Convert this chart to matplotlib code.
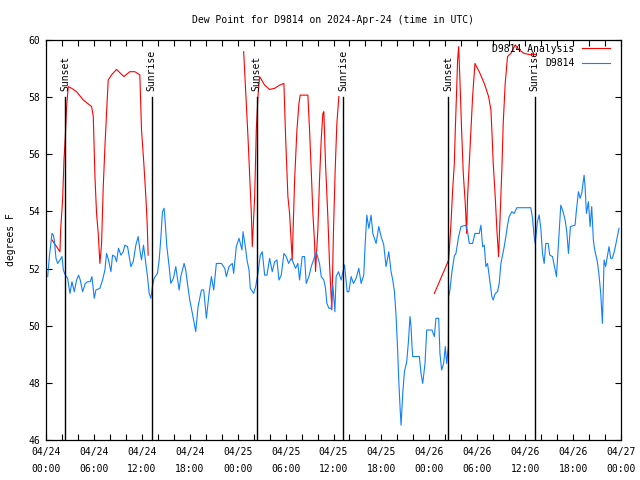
import matplotlib
matplotlib.use("Agg")
import matplotlib.pyplot as plt

# ---- data (hours since 2024-04-24 00:00 UTC, degrees F) ----
obs_hours = [0.21, 0.42, 0.75, 0.92, 1.04, 1.25, 1.46, 1.75, 2.0, 2.17, 2.42, 2.71, 3.0, 3.25, 3.54, 3.83,
             4.08, 4.29, 4.58, 4.92, 5.21, 5.54, 5.75, 6.04, 6.25, 6.75, 7.08, 7.38, 7.58, 7.83, 8.13, 8.33,
             8.63, 8.83, 9.08, 9.38, 9.67, 9.88, 10.21, 10.42, 10.63, 10.92, 11.25, 11.54, 11.79, 11.96,
             12.21, 12.42, 12.71, 12.92, 13.13, 13.33, 13.54, 13.96, 14.17, 14.38, 14.58, 14.79, 14.92,
             15.13, 15.42, 15.63, 15.96, 16.25, 16.46, 16.67, 16.88, 17.08, 17.29, 17.5, 17.71, 18.0,
             18.33, 18.75, 19.04, 19.46, 19.75, 20.08, 20.42, 20.71, 21.0, 21.33, 21.96, 22.38, 22.58,
             22.92, 23.33, 23.5, 23.83, 24.17, 24.54, 24.67, 24.96, 25.17, 25.42, 25.58, 26.0, 26.25,
             26.54, 26.83, 27.08, 27.38, 27.67, 28.0, 28.33, 28.63, 28.92, 29.17, 29.46, 29.79, 30.08,
             30.38, 30.71, 30.92, 31.25, 31.54, 31.75, 32.08, 32.38, 32.58, 32.92, 33.21, 33.5, 33.83,
             34.25, 34.46, 34.79, 35.0, 35.17, 35.42, 35.71, 35.92, 36.17, 36.33, 36.63, 36.96, 37.38,
             37.71, 37.92, 38.21, 38.5, 38.83, 39.17, 39.46, 39.79, 39.96, 40.17, 40.42, 40.71, 40.92,
             41.33, 41.67, 41.96, 42.29, 42.58, 42.92, 43.21, 43.42, 43.63, 43.83, 44.04, 44.17, 44.33,
             44.46, 44.67, 44.88, 45.17, 45.38, 45.58, 45.71, 45.83, 45.92, 46.75, 46.96, 47.17, 47.46,
             47.67, 48.33, 48.63, 48.83, 49.17, 49.33, 49.54, 49.79, 50.0, 50.17, 50.38, 50.42, 50.58,
             50.83, 51.13, 51.33, 51.67, 51.96, 52.58, 52.79, 53.0, 53.42, 53.71, 54.25, 54.46, 54.67,
             54.88, 55.08, 55.29, 55.5, 55.83, 56.0, 56.25, 56.54, 56.75, 56.96, 57.38, 57.58, 57.79,
             58.0, 58.33, 58.63, 58.96, 60.71, 60.92, 61.13, 61.25, 61.54, 61.75, 61.96, 62.17, 62.38,
             62.58, 62.88, 63.08, 63.42, 63.63, 63.92, 64.13, 64.33, 64.46, 64.75, 65.0, 65.21, 65.42,
             65.67, 66.25, 66.42, 66.67, 66.88, 67.08, 67.38, 67.5, 67.67, 67.92, 68.13, 68.33, 68.54,
             68.71, 69.04, 69.25, 69.46, 69.67, 69.88, 70.08, 70.29, 70.5, 70.71, 70.92, 71.21, 71.54,
             71.75]
obs_values = [51.72, 52.42, 53.23, 53.17, 53.0, 52.36, 52.18, 52.3, 52.42, 51.95, 51.77, 51.66, 51.13,
              51.54, 51.19, 51.6, 51.77, 51.6, 51.19, 51.48, 51.54, 51.54, 51.72, 50.96, 51.25, 51.31,
              51.6, 51.95, 52.53, 52.3, 51.89, 52.47, 52.42, 52.24, 52.71, 52.47, 52.59, 52.82, 52.77,
              52.42, 52.07, 52.24, 52.82, 53.12, 52.59, 52.3, 52.82, 52.36, 51.72, 51.13, 50.96, 51.37,
              51.66, 51.84, 52.3, 53.07, 53.99, 54.11, 53.64, 52.77, 52.07, 51.48, 51.66, 52.07, 51.66,
              51.25, 51.72, 51.95, 52.18, 51.95, 51.48, 50.9, 50.43, 49.79, 50.67, 51.25, 51.25, 50.26,
              51.13, 51.72, 51.25, 52.18, 52.18, 52.01, 51.72, 52.07, 52.18, 51.83, 52.77, 53.06, 52.65,
              53.29, 52.77, 52.3, 51.95, 51.31, 51.13, 51.37, 51.83, 52.47, 52.59, 51.77, 51.77, 52.36,
              51.89, 52.24, 52.3, 51.6, 51.77, 52.53, 52.42, 52.18, 52.36, 52.24, 52.01, 52.18, 51.6,
              52.42, 52.42, 51.48, 51.72, 52.07, 52.3, 52.59, 52.18, 51.72, 51.6, 51.31, 50.78, 50.61,
              50.61, 51.43, 50.49, 51.72, 51.89, 51.6, 52.13, 51.19, 51.19, 51.72, 51.48, 51.66, 52.01,
              51.48, 51.78, 52.83, 53.87, 53.41, 53.87, 53.23, 52.88, 53.47, 53.12, 52.83, 52.07, 52.59,
              51.89, 51.6, 51.19, 50.37, 49.09, 48.1, 47.17, 46.52, 47.63, 48.39, 48.74, 49.44, 50.32,
              49.97, 49.27, 48.92, 48.92, 48.33, 47.98, 48.68, 49.85, 49.85, 49.62, 50.26, 50.26, 49.03,
              48.45, 48.68, 49.27, 48.68, 49.27, 51.02, 51.25, 51.89, 52.44, 52.53, 53.12, 53.47, 53.52,
              53.29, 52.88, 52.88, 53.23, 53.23, 53.52, 52.77, 52.82, 52.07, 52.18, 51.72, 51.02, 50.9,
              51.13, 51.19, 51.48, 52.18, 52.77, 53.12, 53.52, 53.82, 53.99, 53.93, 54.13, 54.13, 53.76,
              53.12, 52.88, 53.64, 53.88, 53.41, 52.53, 52.18, 52.88, 52.88, 52.47, 52.42, 52.12, 51.72,
              52.71, 53.64, 54.22, 53.99, 53.7, 53.29, 52.53, 53.47, 53.52, 54.05, 54.69, 54.46, 54.63,
              55.27, 54.87, 53.93, 54.34, 53.47, 54.17, 53.0, 52.65, 52.24, 51.77, 51.13, 50.08, 52.3,
              52.07, 52.42, 52.77, 52.36, 52.36, 52.65, 53.12, 53.41]

ana1_hours = [0.75, 1.75, 1.83, 2.08, 2.25, 2.42, 2.58, 2.79, 3.21, 3.83, 4.67, 5.71, 5.92, 6.13, 6.33,
              6.54, 6.75, 6.96, 7.17, 7.38, 7.58, 7.79, 8.21, 8.83, 9.75, 10.5, 11.13, 11.75, 11.96,
              12.25, 12.5, 12.67, 12.79]
ana1_values = [53.0, 52.59, 53.35, 54.4, 55.8, 56.62, 57.67, 58.37, 58.31, 58.19, 57.9, 57.67, 57.32,
               55.22, 53.93, 53.23, 52.18, 52.88, 54.87, 56.27, 57.43, 58.6, 58.78, 58.97, 58.72,
               58.89, 58.89, 58.78, 56.85, 55.68, 54.52, 53.58, 52.47]
ana2_hours = [24.75, 25.29, 25.71, 25.83, 26.13, 26.33, 26.54, 26.75, 27.38, 28.0, 28.63, 29.25, 29.79,
              30.0, 30.29, 30.5, 30.83, 31.13, 31.42, 31.67, 31.83, 32.79, 33.0, 33.21, 33.42, 33.63,
              33.75, 34.04, 34.25, 34.46, 34.67, 34.79, 35.0, 35.29, 35.5, 35.79, 36.0, 36.21, 36.42,
              36.67]
ana2_values = [59.59, 56.62, 53.93, 52.77, 54.52, 56.85, 58.02, 58.72, 58.42, 58.27, 58.31, 58.42, 58.48,
               56.62, 54.52, 53.93, 52.3, 55.1, 56.85, 57.78, 58.07, 58.07, 56.85, 55.45, 53.93, 52.88,
               51.9, 53.35, 55.1, 56.5, 57.43, 57.49, 55.68, 53.82, 52.18, 50.55, 53.35, 55.45, 57.08,
               58.02]
ana3_hours = [48.63, 50.42, 50.71, 50.92, 51.13, 51.25, 51.42, 51.54, 51.67, 51.83, 52.04, 52.25, 52.5,
              52.67, 52.79, 53.0, 53.21, 53.42, 53.71, 54.25, 54.88, 55.42, 55.71, 55.83, 56.0, 56.25,
              56.46, 56.67, 56.83, 57.08, 57.25, 57.5, 57.79, 58.21, 58.75, 59.25, 59.88, 60.71, 61.3]
ana3_values = [51.13, 52.3, 53.58, 54.75, 55.68, 56.85, 58.25, 59.3, 59.77, 58.6, 56.85, 55.33, 54.28,
               53.23, 54.52, 55.68, 56.85, 58.02, 59.18, 58.89, 58.48, 58.02, 57.55, 56.85, 55.68, 54.52,
               53.35, 52.42, 53.58, 55.45, 57.08, 58.48, 59.42, 59.53, 59.83, 59.65, 59.53, 59.48, 59.5]

sunset_hours = [2.4, 26.4, 50.4]
sunrise_hours = [13.25, 37.2, 61.2]

xtick_hours = [0, 6, 12, 18, 24, 30, 36, 42, 48, 54, 60, 66, 72]
xtick_labels = ["04/24\n00:00", "04/24\n06:00", "04/24\n12:00", "04/24\n18:00",
                "04/25\n00:00", "04/25\n06:00", "04/25\n12:00", "04/25\n18:00",
                "04/26\n00:00", "04/26\n06:00", "04/26\n12:00", "04/26\n18:00",
                "04/27\n00:00"]
ytick_values = [46, 48, 50, 52, 54, 56, 58, 60]

# ---- figure ----
plt.rcParams['font.family'] = ['DejaVu Sans Mono']
plt.rcParams['font.size'] = 7

fig = plt.figure(figsize=(6.4, 4.8), dpi=100)
ax = fig.add_axes([46/640, 40/480, 575/640, 400/480])

red = '#ff0000'
blue = '#1080ff'
lw = 0.8

ax.plot(ana1_hours, ana1_values, color=red, lw=lw, label='D9814 Analysis', zorder=2)
ax.plot(ana2_hours, ana2_values, color=red, lw=lw, zorder=2)
ax.plot(ana3_hours, ana3_values, color=red, lw=lw, zorder=2)
ax.plot(obs_hours, obs_values, color=blue, lw=lw, label='D9814', zorder=3)

for h in sunset_hours:
    ax.plot([h, h], [46, 58], color='black', lw=1.0, zorder=4)
    ax.text(h, 58.2, 'Sunset', rotation=90, ha='center', va='bottom', fontsize=7, zorder=5)
for h in sunrise_hours:
    ax.plot([h, h], [46, 58], color='black', lw=1.0, zorder=4)
    ax.text(h, 58.2, 'Sunrise', rotation=90, ha='center', va='bottom', fontsize=7, zorder=5)

ax.set_xlim(0, 72)
ax.set_ylim(46, 60)
ax.set_xticks(xtick_hours)
ax.set_xticklabels(xtick_labels, linespacing=1.85)
ax.set_xticks(list(range(0, 73, 2)), minor=True)
ax.set_yticks(ytick_values)
ax.tick_params(axis='both', which='both', direction='in', top=True, right=True,
               length=4, width=0.8, labelsize=7, pad=4)
ax.tick_params(axis='x', which='major', pad=5)
for s in ax.spines.values():
    s.set_linewidth(0.9)

ax.set_ylabel('degrees F', fontsize=7, labelpad=9)
ax.set_title('Dew Point for D9814 on 2024-Apr-24 (time in UTC)', fontsize=7, pad=12)

ax.legend(loc='upper right', bbox_to_anchor=(0.988, 1.0), frameon=False, markerfirst=False,
          handlelength=2.9, labelspacing=0.45, borderaxespad=0.0, handletextpad=0.75, fontsize=7)

fig.savefig('out.png', dpi=100)
